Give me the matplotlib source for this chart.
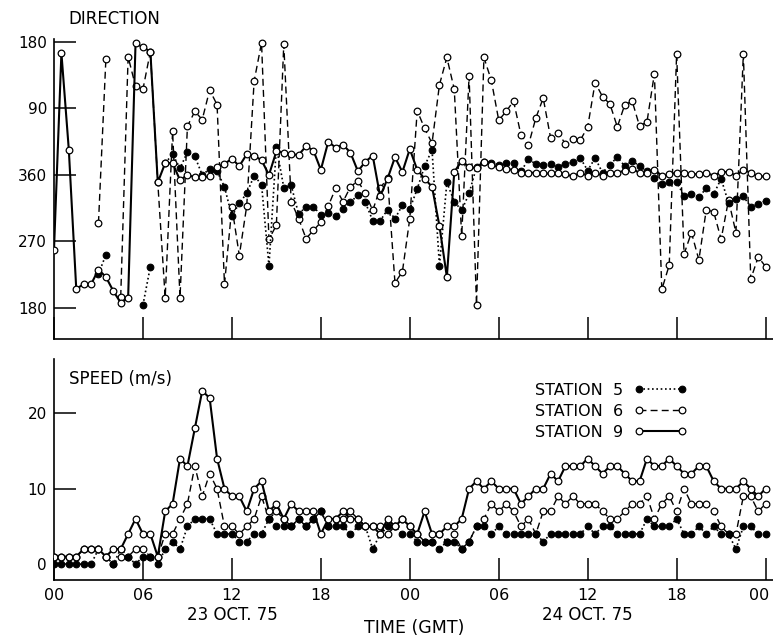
import numpy as np
import matplotlib
matplotlib.use("Agg")
import matplotlib.pyplot as plt
import matplotlib.transforms as mtransforms
from matplotlib.lines import Line2D

nan = np.nan
# half-hourly observations, 00 GMT 23 Oct 75 -> 00 GMT 25 Oct 75
hours = np.arange(97) * 0.5

# wind direction (degrees)
dir_st5 = [nan, nan, nan, nan, nan, nan, 226, 252, nan, nan,
           nan, nan, 184, 236, nan, 16, 28, 9, 31, 25,
           0, 8, 5, 344, 304, 322, 335, 359, 347, 237,
           38, 343, 346, 307, 317, 317, 306, 309, 304, 314,
           323, 333, 323, 298, 298, 313, 301, 319, 314, 341,
           12, 34, 237, 350, 324, 312, 335, 11, 18, 16,
           14, 16, 16, 5, 21, 15, 14, 15, 11, 15,
           17, 23, 6, 23, 3, 14, 24, 12, 19, 12,
           5, 356, 348, 350, 351, 331, 334, 330, 342, 334,
           355, 322, 327, 331, 317, 321, 325]
dir_st6 = [nan, nan, nan, nan, nan, nan, 295, 157, nan, 195,
           160, 120, 116, 167, 350, 194, 59, 194, 66, 86,
           75, 115, 95, 212, 317, 251, 318, 127, 179, 273,
           292, 177, 324, 301, 274, 285, 296, 318, 342, 324,
           344, 352, 335, 312, 342, 356, 214, 229, 301, 87,
           63, 43, 122, 159, 116, 277, 134, 184, 159, 128,
           74, 86, 100, 54, 40, 77, 104, 50, 57, 42,
           48, 47, 65, 125, 106, 96, 65, 95, 100, 66,
           72, 137, 205, 238, 164, 253, 282, 245, 313, 310,
           273, 326, 282, 164, 219, 249, 236]
dir_st9 = [259, 165, 34, 206, 212, 212, 232, 222, 203, 187,
           193, 178, 173, 167, 350, 16, 16, 353, 0, 357,
           357, 358, 11, 15, 22, 12, 28, 26, 20, 0,
           32, 30, 28, 27, 39, 33, 7, 45, 37, 41,
           30, 5, 18, 26, 331, 355, 24, 4, 35, 7,
           355, 344, 291, 222, 4, 19, 11, 9, 17, 13,
           11, 8, 7, 3, 3, 3, 2, 2, 2, 1,
           358, 3, 359, 3, 359, 2, 3, 6, 8, 3,
           3, 7, 359, 1, 3, 2, 1, 1, 3, 359,
           4, 4, 359, 7, 3, 358, 358]

# wind speed (m/s)
spd_st5 = [0, 0, 0, 0, 0, 0, 2, 1, 0, 2,
           1, 0, 1, 1, 0, 2, 3, 2, 5, 6,
           6, 6, 4, 4, 4, 3, 3, 4, 4, 6,
           5, 5, 5, 6, 5, 6, 7, 5, 5, 5,
           4, 5, 5, 2, 4, 5, 5, 4, 4, 3,
           3, 3, 2, 3, 3, 2, 3, 5, 5, 4,
           5, 4, 4, 4, 4, 4, 3, 4, 4, 4,
           4, 4, 5, 4, 5, 5, 4, 4, 4, 4,
           6, 5, 5, 5, 6, 4, 4, 5, 4, 5,
           4, 4, 2, 5, 5, 4, 4]
spd_st6 = [1, 1, 1, 1, 2, 2, 2, 1, 0, 1,
           1, 2, 2, 1, 1, 4, 4, 6, 8, 13,
           9, 12, 10, 5, 5, 4, 5, 6, 9, 6,
           7, 6, 5, 6, 5, 6, 7, 5, 6, 6,
           7, 6, 5, 5, 5, 4, 5, 6, 5, 4,
           3, 3, 4, 3, 4, 2, 3, 5, 6, 8,
           7, 8, 7, 5, 6, 4, 7, 7, 9, 8,
           9, 8, 8, 8, 7, 6, 6, 7, 8, 8,
           9, 6, 8, 9, 7, 10, 8, 8, 8, 7,
           5, 4, 4, 9, 9, 7, 8]
spd_st9 = [1, 1, 1, 1, 2, 2, 2, 1, 2, 2,
           4, 6, 4, 4, 1, 7, 8, 14, 13, 18,
           23, 22, 14, 10, 9, 9, 7, 10, 11, 7,
           8, 6, 8, 7, 7, 7, 4, 6, 6, 7,
           6, 6, 5, 5, 4, 6, 5, 6, 5, 4,
           7, 4, 4, 5, 5, 6, 10, 11, 10, 11,
           10, 10, 10, 8, 9, 10, 10, 12, 11, 13,
           13, 13, 14, 13, 12, 13, 13, 12, 11, 11,
           14, 13, 13, 14, 13, 12, 12, 13, 13, 11,
           10, 10, 10, 11, 10, 9, 10]

xtick_pos = [0, 6, 12, 18, 24, 30, 36, 42, 48]
xtick_labels = ["00", "06", "12", "18", "00", "06", "12", "18", "00"]
dir_tick_pos = [180, 270, 360, 450, 540]
dir_tick_labels = ["180", "270", "360", "90", "180"]
spd_tick_pos = [0, 10, 20]
spd_tick_labels = ["0", "10", "20"]
day_labels = ["23 OCT. 75", "24 OCT. 75"]
day_label_hours = [12, 36]
station_names = ["STATION  5", "STATION  6", "STATION  9"]


def unwrap(d):
    d = np.asarray(d, dtype=float)
    return np.where(d < 180, d + 360, d)


W, H = 773, 638
fig = plt.figure(figsize=(W / 100, H / 100), dpi=100)


def rect(l, t, r, b):
    return [l / W, 1 - b / H, (r - l) / W, (b - t) / H]


ax1 = fig.add_axes(rect(54, 39, 773, 339))
ax2 = fig.add_axes(rect(54, 359, 773, 580))

styles = {
    "s5": dict(color="black", lw=1.2, linestyle=(0, (1, 1.6)), marker="o",
               ms=4.8, mfc="black", mec="black", mew=0.8),
    "s6": dict(color="black", lw=1.0, linestyle=(0, (5, 3)), marker="o",
               ms=4.8, mfc="white", mec="black", mew=0.9),
    "s9": dict(color="black", lw=1.5, linestyle="-", marker="o",
               ms=4.8, mfc="white", mec="black", mew=0.9),
}

ax1.plot(hours, unwrap(dir_st6), **styles["s6"], zorder=2)
ax1.plot(hours, unwrap(dir_st5), **styles["s5"], zorder=3)
ax1.plot(hours, unwrap(dir_st9), **styles["s9"], zorder=4)

ax2.plot(hours, spd_st6, **styles["s6"], zorder=2)
ax2.plot(hours, spd_st5, **styles["s5"], zorder=3)
ax2.plot(hours, spd_st9, **styles["s9"], zorder=4)

for ax in (ax1, ax2):
    ax.set_xlim(0, 48.5)
    for s in ("top", "right"):
        ax.spines[s].set_visible(False)
    for s in ("left", "bottom"):
        ax.spines[s].set_linewidth(1.2)
    ax.set_xticks(xtick_pos)
    ax.tick_params(axis="both", direction="in", length=16, width=1.1,
                   pad=5, labelsize=11)

ax1.set_ylim(138, 544)
ax1.set_yticks(dir_tick_pos)
ax1.set_yticklabels(dir_tick_labels)
ax1.tick_params(axis="x", labelbottom=False)

ax2.set_ylim(-2.1, 27.2)
ax2.set_yticks(spd_tick_pos)
ax2.set_yticklabels(spd_tick_labels)
ax2.set_xticklabels(xtick_labels)
ax2.tick_params(axis="x", labelsize=11.5, pad=6)
last = ax2.get_xticklabels()[-1]
last.set_transform(last.get_transform() +
                   mtransforms.ScaledTranslation(-6 / 100, 0, fig.dpi_scale_trans))

fig.text(68 / W, 1 - 24 / H, "DIRECTION", fontsize=12, va="baseline", ha="left")
fig.text(69 / W, 1 - 384 / H, "SPEED (m/s)", fontsize=12, va="baseline", ha="left")
for lab, hr in zip(day_labels, day_label_hours):
    ax2.annotate(lab, xy=(hr, 0), xycoords=("data", "axes fraction"),
                 xytext=(0, -40), textcoords="offset pixels",
                 ha="center", va="baseline", fontsize=12)
fig.text(414 / W, 1 - 633 / H, "TIME (GMT)", fontsize=12.5, va="baseline", ha="center")

handles = [Line2D([], [], **styles[k]) for k in ("s5", "s6", "s9")]
ax2.legend(handles, station_names, loc="upper left", bbox_to_anchor=(0.66, 0.92),
           markerfirst=False, frameon=False, numpoints=2, handlelength=3.3,
           handletextpad=0.7, labelspacing=0.37, fontsize=11.5, borderaxespad=0)

fig.savefig("out.png", dpi=100)
